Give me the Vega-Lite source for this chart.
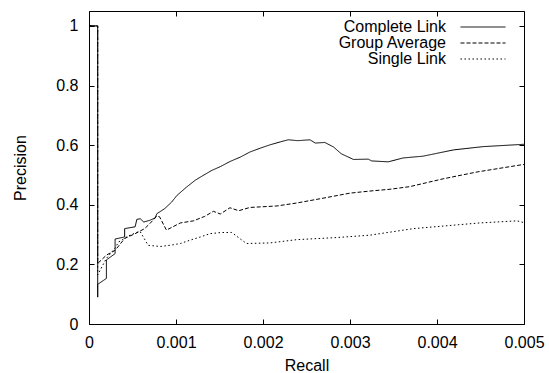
{
  "$schema": "https://vega.github.io/schema/vega-lite/v6.json",
  "width": 435,
  "height": 313,
  "autosize": {"type": "none"},
  "padding": {"left": 89, "top": 11, "right": 25, "bottom": 49},
  "background": "white",
  "config": {
    "font": "Liberation Sans",
    "view": {"stroke": "black", "strokeWidth": 1},
    "axis": {
      "grid": false,
      "domain": false,
      "tickColor": "black",
      "tickSize": -5,
      "labelFont": "Liberation Sans",
      "labelFontSize": 16,
      "labelColor": "black",
      "titleFont": "Liberation Sans",
      "titleFontSize": 16,
      "titleFontWeight": "normal",
      "titleColor": "black"
    }
  },
  "data": {
    "values": [
      {"s": "Complete Link", "o": 0, "r": 0.00001, "p": 1},
      {"s": "Complete Link", "o": 1, "r": 0.0001, "p": 1},
      {"s": "Complete Link", "o": 2, "r": 0.0001, "p": 0.09},
      {"s": "Complete Link", "o": 3, "r": 0.0001, "p": 0.133},
      {"s": "Complete Link", "o": 4, "r": 0.0002, "p": 0.153},
      {"s": "Complete Link", "o": 5, "r": 0.0002, "p": 0.215},
      {"s": "Complete Link", "o": 6, "r": 0.0003, "p": 0.236},
      {"s": "Complete Link", "o": 7, "r": 0.0003, "p": 0.285},
      {"s": "Complete Link", "o": 8, "r": 0.00041, "p": 0.292},
      {"s": "Complete Link", "o": 9, "r": 0.00041, "p": 0.32},
      {"s": "Complete Link", "o": 10, "r": 0.00053, "p": 0.326},
      {"s": "Complete Link", "o": 11, "r": 0.00055, "p": 0.351},
      {"s": "Complete Link", "o": 12, "r": 0.00059, "p": 0.353},
      {"s": "Complete Link", "o": 13, "r": 0.00063, "p": 0.342},
      {"s": "Complete Link", "o": 14, "r": 0.0007, "p": 0.348},
      {"s": "Complete Link", "o": 15, "r": 0.00076, "p": 0.356},
      {"s": "Complete Link", "o": 16, "r": 0.00078, "p": 0.37},
      {"s": "Complete Link", "o": 17, "r": 0.00087, "p": 0.387},
      {"s": "Complete Link", "o": 18, "r": 0.00095, "p": 0.409},
      {"s": "Complete Link", "o": 19, "r": 0.00101, "p": 0.431},
      {"s": "Complete Link", "o": 20, "r": 0.00112, "p": 0.459},
      {"s": "Complete Link", "o": 21, "r": 0.00122, "p": 0.482},
      {"s": "Complete Link", "o": 22, "r": 0.00131, "p": 0.498},
      {"s": "Complete Link", "o": 23, "r": 0.00141, "p": 0.515},
      {"s": "Complete Link", "o": 24, "r": 0.00151, "p": 0.528},
      {"s": "Complete Link", "o": 25, "r": 0.00162, "p": 0.545},
      {"s": "Complete Link", "o": 26, "r": 0.00174, "p": 0.56},
      {"s": "Complete Link", "o": 27, "r": 0.00185, "p": 0.577},
      {"s": "Complete Link", "o": 28, "r": 0.00197, "p": 0.59},
      {"s": "Complete Link", "o": 29, "r": 0.00208, "p": 0.601},
      {"s": "Complete Link", "o": 30, "r": 0.0022, "p": 0.611},
      {"s": "Complete Link", "o": 31, "r": 0.00229, "p": 0.618},
      {"s": "Complete Link", "o": 32, "r": 0.0024, "p": 0.615},
      {"s": "Complete Link", "o": 33, "r": 0.00254, "p": 0.618},
      {"s": "Complete Link", "o": 34, "r": 0.0026, "p": 0.607},
      {"s": "Complete Link", "o": 35, "r": 0.00271, "p": 0.609},
      {"s": "Complete Link", "o": 36, "r": 0.00281, "p": 0.594},
      {"s": "Complete Link", "o": 37, "r": 0.0029, "p": 0.571},
      {"s": "Complete Link", "o": 38, "r": 0.00304, "p": 0.552},
      {"s": "Complete Link", "o": 39, "r": 0.00321, "p": 0.553},
      {"s": "Complete Link", "o": 40, "r": 0.00325, "p": 0.547},
      {"s": "Complete Link", "o": 41, "r": 0.00344, "p": 0.544},
      {"s": "Complete Link", "o": 42, "r": 0.00361, "p": 0.557},
      {"s": "Complete Link", "o": 43, "r": 0.00384, "p": 0.563},
      {"s": "Complete Link", "o": 44, "r": 0.00419, "p": 0.584},
      {"s": "Complete Link", "o": 45, "r": 0.00453, "p": 0.595},
      {"s": "Complete Link", "o": 46, "r": 0.00495, "p": 0.602},
      {"s": "Complete Link", "o": 47, "r": 0.005, "p": 0.603},
      {"s": "Group Average", "o": 0, "r": 0.00001, "p": 1},
      {"s": "Group Average", "o": 1, "r": 0.0001, "p": 1},
      {"s": "Group Average", "o": 2, "r": 0.0001, "p": 0.203},
      {"s": "Group Average", "o": 3, "r": 0.0002, "p": 0.231},
      {"s": "Group Average", "o": 4, "r": 0.0003, "p": 0.247},
      {"s": "Group Average", "o": 5, "r": 0.00041, "p": 0.287},
      {"s": "Group Average", "o": 6, "r": 0.00053, "p": 0.303},
      {"s": "Group Average", "o": 7, "r": 0.00064, "p": 0.32},
      {"s": "Group Average", "o": 8, "r": 0.0007, "p": 0.337},
      {"s": "Group Average", "o": 9, "r": 0.00078, "p": 0.362},
      {"s": "Group Average", "o": 10, "r": 0.00081, "p": 0.36},
      {"s": "Group Average", "o": 11, "r": 0.00089, "p": 0.315},
      {"s": "Group Average", "o": 12, "r": 0.00105, "p": 0.339},
      {"s": "Group Average", "o": 13, "r": 0.0012, "p": 0.346},
      {"s": "Group Average", "o": 14, "r": 0.00133, "p": 0.361},
      {"s": "Group Average", "o": 15, "r": 0.00143, "p": 0.378},
      {"s": "Group Average", "o": 16, "r": 0.00151, "p": 0.369},
      {"s": "Group Average", "o": 17, "r": 0.00162, "p": 0.39},
      {"s": "Group Average", "o": 18, "r": 0.00172, "p": 0.38},
      {"s": "Group Average", "o": 19, "r": 0.00185, "p": 0.391},
      {"s": "Group Average", "o": 20, "r": 0.00216, "p": 0.396},
      {"s": "Group Average", "o": 21, "r": 0.00239, "p": 0.406},
      {"s": "Group Average", "o": 22, "r": 0.00269, "p": 0.422},
      {"s": "Group Average", "o": 23, "r": 0.003, "p": 0.439},
      {"s": "Group Average", "o": 24, "r": 0.00323, "p": 0.446},
      {"s": "Group Average", "o": 25, "r": 0.00346, "p": 0.452},
      {"s": "Group Average", "o": 26, "r": 0.00369, "p": 0.461},
      {"s": "Group Average", "o": 27, "r": 0.00407, "p": 0.487},
      {"s": "Group Average", "o": 28, "r": 0.00446, "p": 0.51},
      {"s": "Group Average", "o": 29, "r": 0.00497, "p": 0.534},
      {"s": "Group Average", "o": 30, "r": 0.005, "p": 0.535},
      {"s": "Single Link", "o": 0, "r": 0.00001, "p": 1},
      {"s": "Single Link", "o": 1, "r": 0.0001, "p": 1},
      {"s": "Single Link", "o": 2, "r": 0.0001, "p": 0.165},
      {"s": "Single Link", "o": 3, "r": 0.0002, "p": 0.22},
      {"s": "Single Link", "o": 4, "r": 0.0003, "p": 0.255},
      {"s": "Single Link", "o": 5, "r": 0.00034, "p": 0.275},
      {"s": "Single Link", "o": 6, "r": 0.00045, "p": 0.295},
      {"s": "Single Link", "o": 7, "r": 0.00057, "p": 0.31},
      {"s": "Single Link", "o": 8, "r": 0.00059, "p": 0.309},
      {"s": "Single Link", "o": 9, "r": 0.00068, "p": 0.264},
      {"s": "Single Link", "o": 10, "r": 0.00082, "p": 0.26},
      {"s": "Single Link", "o": 11, "r": 0.00093, "p": 0.264},
      {"s": "Single Link", "o": 12, "r": 0.00105, "p": 0.27},
      {"s": "Single Link", "o": 13, "r": 0.00116, "p": 0.281},
      {"s": "Single Link", "o": 14, "r": 0.00128, "p": 0.292},
      {"s": "Single Link", "o": 15, "r": 0.00139, "p": 0.303},
      {"s": "Single Link", "o": 16, "r": 0.00152, "p": 0.307},
      {"s": "Single Link", "o": 17, "r": 0.00164, "p": 0.307},
      {"s": "Single Link", "o": 18, "r": 0.00181, "p": 0.27},
      {"s": "Single Link", "o": 19, "r": 0.00208, "p": 0.272},
      {"s": "Single Link", "o": 20, "r": 0.00239, "p": 0.283},
      {"s": "Single Link", "o": 21, "r": 0.00285, "p": 0.29},
      {"s": "Single Link", "o": 22, "r": 0.00323, "p": 0.298},
      {"s": "Single Link", "o": 23, "r": 0.00373, "p": 0.32},
      {"s": "Single Link", "o": 24, "r": 0.00449, "p": 0.339},
      {"s": "Single Link", "o": 25, "r": 0.00492, "p": 0.346},
      {"s": "Single Link", "o": 26, "r": 0.005, "p": 0.34}
    ]
  },
  "layer": [
    {
      "mark": {"type": "line", "color": "black", "strokeWidth": 1, "clip": true},
      "encoding": {
        "x": {
          "field": "r", "type": "quantitative", "title": "Recall",
          "scale": {"domain": [0, 0.005], "nice": false, "zero": false},
          "axis": {"orient": "bottom", "values": [0, 0.001, 0.002, 0.003, 0.004, 0.005], "format": ".3~f", "labelPadding": 15, "titlePadding": 7, "labelFlush": false}
        },
        "y": {
          "field": "p", "type": "quantitative", "title": "Precision",
          "scale": {"domain": [0, 1.05], "nice": false, "zero": false},
          "axis": {"orient": "left", "values": [0, 0.2, 0.4, 0.6, 0.8, 1], "format": ".1~f", "labelPadding": 16, "titlePadding": 27}
        },
        "order": {"field": "o", "type": "quantitative"},
        "strokeDash": {
          "field": "s", "type": "nominal",
          "scale": {"domain": ["Complete Link", "Group Average", "Single Link"], "range": [[1, 0], [4, 2], [1.5, 2.5]]},
          "legend": {
            "title": null,
            "orient": "none",
            "legendX": 386,
            "legendY": 8,
            "padding": 0,
            "symbolType": "M-4.5,0H4.5",
            "symbolSize": 100,
            "symbolStrokeWidth": 1,
            "symbolStrokeColor": "black",
            "labelAlign": "right",
            "labelOffset": -45,
            "labelFontSize": 16,
            "labelFont": "Liberation Sans",
            "labelColor": "black",
            "rowPadding": -1
          }
        }
      }
    },
    {
      "mark": {"type": "point", "opacity": 0},
      "encoding": {
        "x": {"field": "r", "type": "quantitative", "axis": {"orient": "top", "values": [0, 0.001, 0.002, 0.003, 0.004, 0.005], "labels": false, "title": null}},
        "y": {"field": "p", "type": "quantitative", "axis": {"orient": "right", "values": [0, 0.2, 0.4, 0.6, 0.8, 1], "labels": false, "title": null}}
      }
    }
  ],
  "resolve": {"axis": {"x": "independent", "y": "independent"}}
}
